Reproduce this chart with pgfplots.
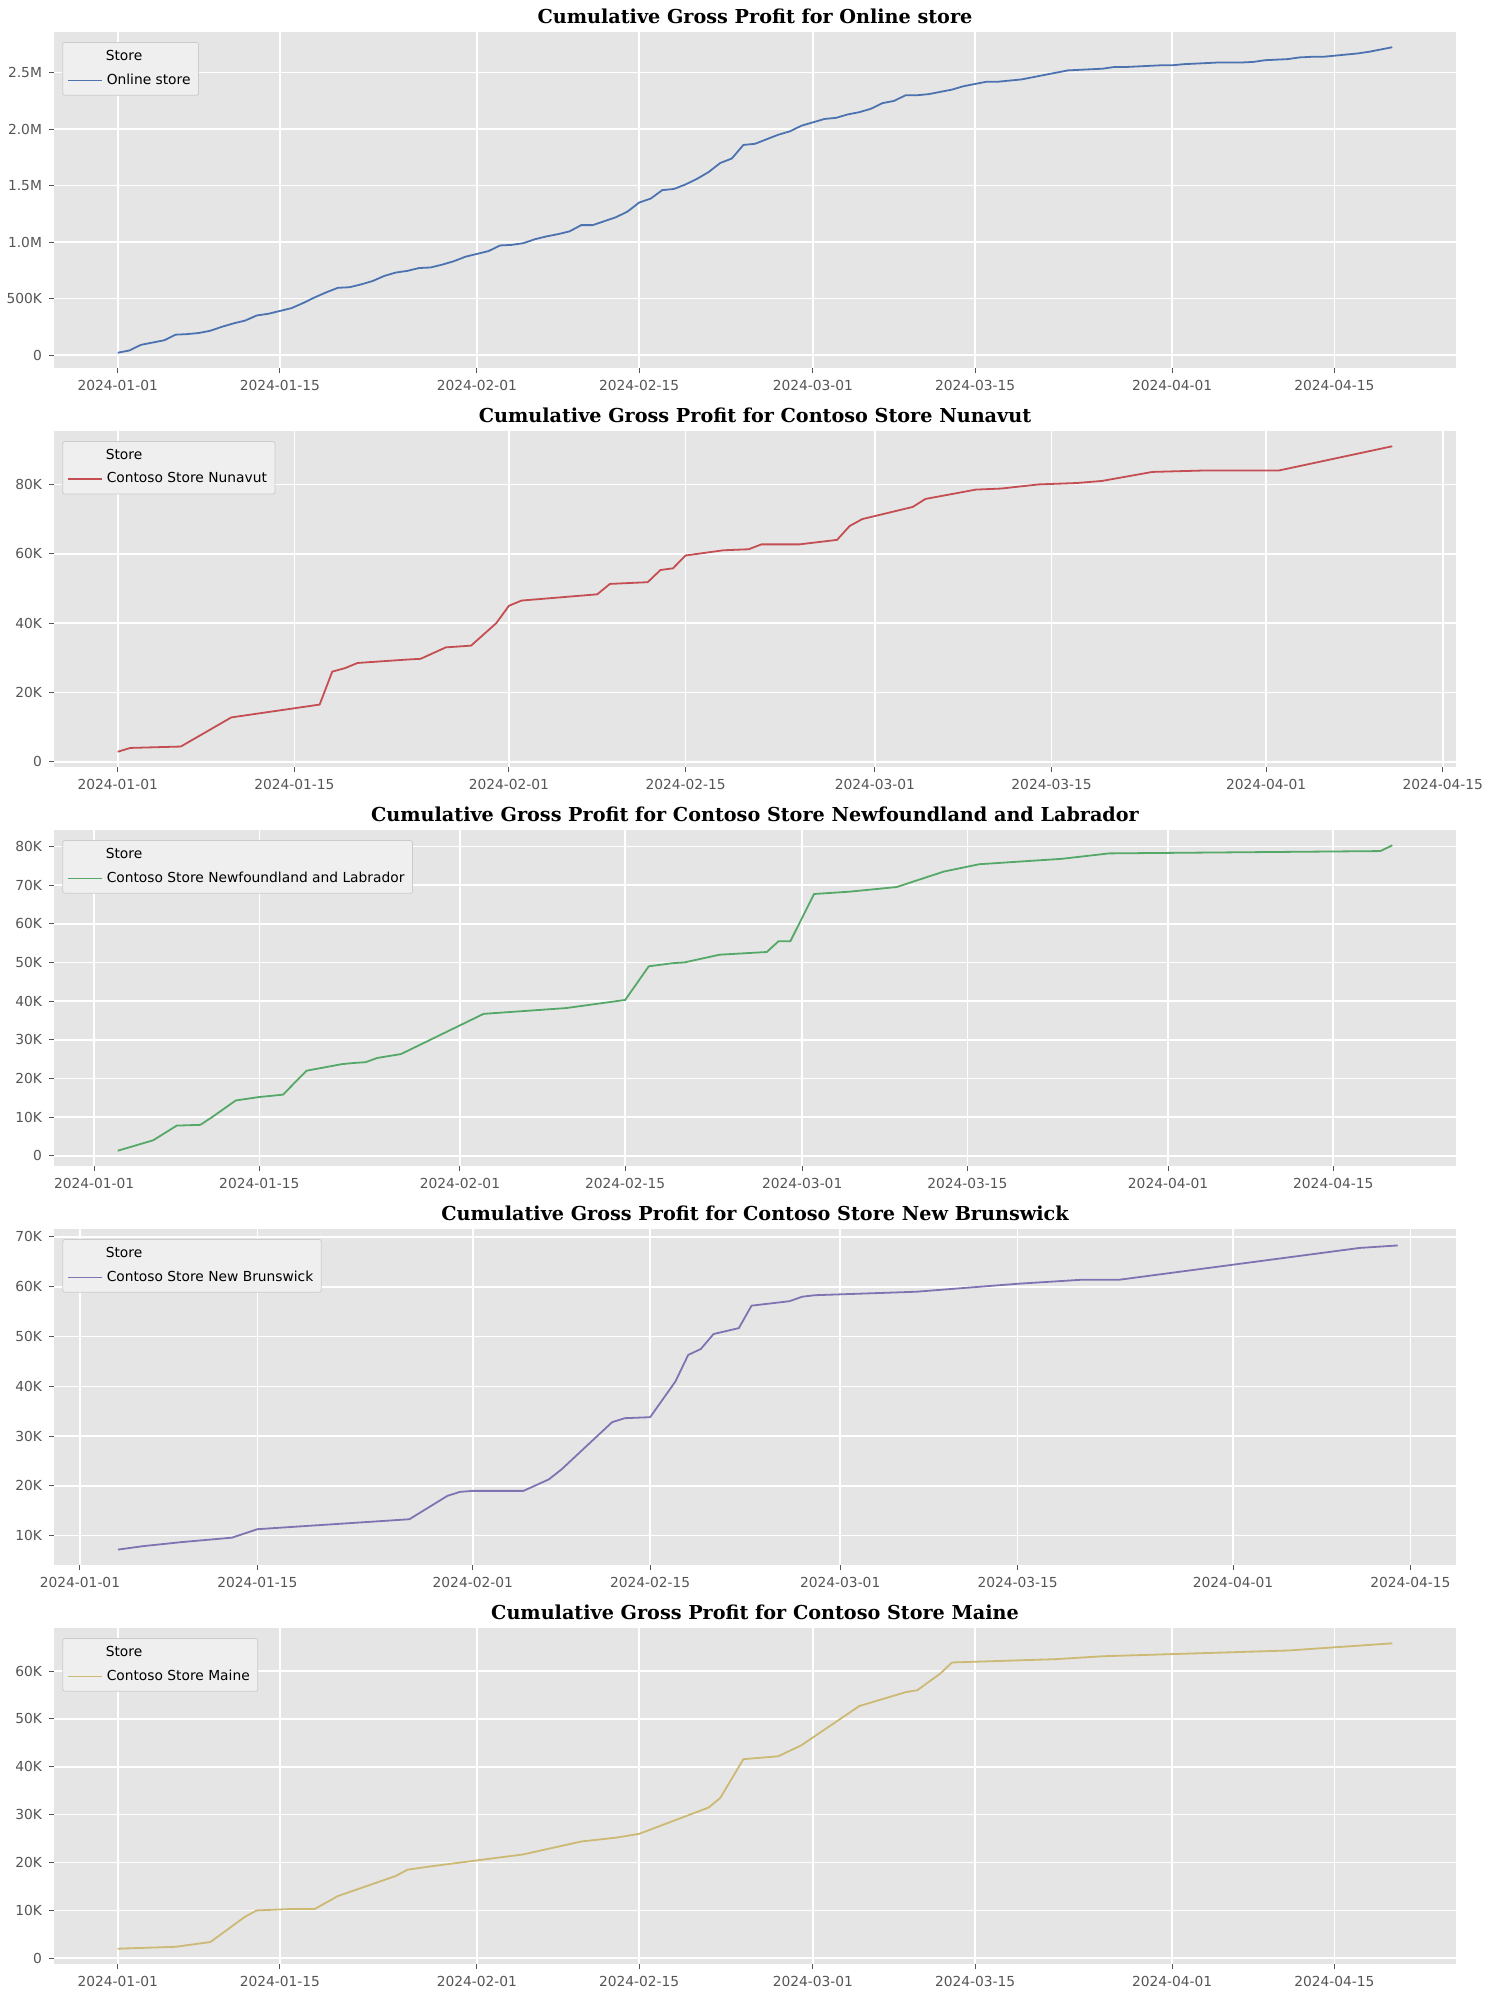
\documentclass[border=0pt]{standalone}
\usepackage{fontspec}
\setmainfont{DejaVu Sans}
\newfontfamily\titlefont{DejaVu Serif}
\usepackage{pgfplots}
\pgfplotsset{compat=1.18}
\definecolor{bgc}{HTML}{E5E5E5}
\definecolor{c1}{HTML}{4C72B0}
\definecolor{c2}{HTML}{C44E52}
\definecolor{c3}{HTML}{55A868}
\definecolor{c4}{HTML}{8172B2}
\definecolor{c5}{HTML}{CCB974}
\definecolor{tk}{HTML}{555555}
\pgfplotsset{gg/.style={
  scale only axis, width=701pt, height=168pt, anchor=north west,
  axis background/.style={fill=bgc}, axis line style={draw=none},
  grid=major, major grid style={white, line width=0.8pt},
  tick align=outside, major tick length=2.5pt, tick style={tk, line width=0.5pt},
  xtick pos=bottom, ytick pos=left,
  ticklabel style={font=\fontsize{6.9}{8}\selectfont, text=tk},
  title style={font=\titlefont\bfseries\fontsize{9.6}{11}\selectfont, yshift=-5.5pt},
  legend pos=north west,
  legend style={font=\fontsize{6.9}{8}\selectfont, fill=bgc!60!white, draw=gray!40, rounded corners=1pt, at={(0.006,0.97)}, anchor=north west, inner sep=2pt, row sep=1pt},
  legend cell align=left,
  xtick={0,14,31,45,60,74,91,105},
  xticklabels={2024-01-01,2024-01-15,2024-02-01,2024-02-15,2024-03-01,2024-03-15,2024-04-01,2024-04-15},
  every axis plot/.append style={line width=0.9pt},
}}
\newcommand{\legtitle}{\addlegendimage{empty legend}\addlegendentry{\hspace{-0.5em}\makebox[3.5em][c]{Store}}}
\begin{document}
\begin{tikzpicture}
\useasboundingbox (0,0) rectangle (743.5pt,-994.5pt);
% Panel 1
\begin{axis}[gg, at={(27pt,-16pt)}, xmin=-5.5, xmax=115.5, ymin=-115, ymax=2860,
  ytick={0,500,1000,1500,2000,2500}, yticklabels={0,500K,1.0M,1.5M,2.0M,2.5M},
  title={Cumulative Gross Profit for Online store}]
\legtitle
\addplot[c1] coordinates {(0,20)(1,40)(2,90)(3,110)(4,130)(5,180)(6,185)(7,195)(8,215)(9,250)(10,280)(11,305)(12,350)(13,365)(14,390)(15,415)(16,460)(17,510)(18,555)(19,595)(20,600)(21,625)(22,655)(23,700)(24,730)(25,745)(26,770)(27,775)(28,800)(29,830)(30,870)(31,895)(32,920)(33,970)(34,975)(35,990)(36,1025)(37,1050)(38,1070)(39,1095)(40,1150)(41,1150)(42,1185)(43,1220)(44,1270)(45,1350)(46,1385)(47,1460)(48,1470)(49,1510)(50,1560)(51,1620)(52,1700)(53,1740)(54,1860)(55,1870)(56,1910)(57,1950)(58,1980)(59,2030)(60,2060)(61,2090)(62,2100)(63,2130)(64,2150)(65,2180)(66,2230)(67,2250)(68,2300)(69,2300)(70,2310)(71,2330)(72,2350)(73,2380)(74,2400)(75,2420)(76,2420)(77,2430)(78,2440)(79,2460)(80,2480)(81,2500)(82,2520)(83,2525)(84,2530)(85,2535)(86,2550)(87,2550)(88,2555)(89,2560)(90,2565)(91,2565)(92,2575)(93,2580)(94,2585)(95,2590)(96,2590)(97,2590)(98,2595)(99,2610)(100,2615)(101,2620)(102,2635)(103,2640)(104,2640)(105,2650)(106,2660)(107,2670)(108,2685)(110,2725)};
\addlegendentry{Online store}
\end{axis}
% Panel 2
\begin{axis}[gg, at={(27pt,-215.5pt)}, xmin=-5.05, xmax=106.05, ymin=-1.5, ymax=95.4,
  ytick={0,20,40,60,80}, yticklabels={0,20K,40K,60K,80K},
  title={Cumulative Gross Profit for Contoso Store Nunavut}]
\legtitle
\addplot[c2] coordinates {(0,2.9)(1,4)(5,4.4)(9,12.8)(16,16.5)(17,26)(18,27)(19,28.5)(23,29.5)(24,29.7)(26,33)(28,33.5)(30,40)(31,45)(32,46.5)(38,48.3)(39,51.3)(42,51.8)(43,55.3)(44,55.8)(45,59.5)(46,60)(48,61)(50,61.3)(51,62.7)(54,62.7)(57,64)(58,68)(59,70)(63,73.5)(64,75.8)(68,78.5)(70,78.8)(73,80)(76,80.4)(78,81)(82,83.6)(86,84)(92,84)(101,91)};
\addlegendentry{Contoso Store Nunavut}
\end{axis}
% Panel 3
\begin{axis}[gg, at={(27pt,-415pt)}, xmin=-3.4, xmax=115.4, ymin=-2.65, ymax=84.25,
  ytick={0,10,...,80}, yticklabels={0,10K,20K,30K,40K,50K,60K,70K,80K},
  title={Cumulative Gross Profit for Contoso Store Newfoundland and Labrador}]
\legtitle
\addplot[c3] coordinates {(2,1.3)(5,4)(7,7.8)(9,8)(10,10)(12,14.3)(14,15.2)(16,15.8)(18,22)(21,23.7)(22,24)(23,24.2)(24,25.3)(26,26.3)(33,36.7)(40,38.2)(45,40.3)(47,49)(49,49.8)(50,50)(53,52)(57,52.7)(58,55.5)(59,55.5)(61,67.7)(64,68.3)(68,69.5)(72,73.5)(75,75.4)(82,76.8)(86,78.2)(109,78.8)(110,80.3)};
\addlegendentry{Contoso Store Newfoundland and Labrador}
\end{axis}
% Panel 4
\begin{axis}[gg, at={(27pt,-614.5pt)}, xmin=-2.05, xmax=108.6, ymin=4.1, ymax=71.6,
  ytick={10,20,...,70}, yticklabels={10K,20K,30K,40K,50K,60K,70K},
  title={Cumulative Gross Profit for Contoso Store New Brunswick}]
\legtitle
\addplot[c4] coordinates {(3,7.2)(5,7.9)(8,8.7)(12,9.6)(14,11.3)(26,13.3)(29,18)(30,18.8)(31,19)(35,19)(37,21.3)(38,23.3)(42,32.8)(43,33.6)(45,33.8)(47,41)(48,46.3)(49,47.5)(50,50.5)(52,51.7)(53,56.2)(56,57.1)(57,58)(58,58.3)(66,59)(74,60.6)(79,61.4)(82,61.4)(101,67.8)(104,68.3)};
\addlegendentry{Contoso Store New Brunswick}
\end{axis}
% Panel 5
\begin{axis}[gg, at={(27pt,-814pt)}, xmin=-5.5, xmax=115.5, ymin=-1.2, ymax=69,
  ytick={0,10,...,60}, yticklabels={0,10K,20K,30K,40K,50K,60K},
  title={Cumulative Gross Profit for Contoso Store Maine}]
\legtitle
\addplot[c5] coordinates {(0,2)(5,2.4)(8,3.4)(11,8.7)(12,10)(15,10.3)(17,10.3)(19,13)(24,17.2)(25,18.5)(27,19.2)(35,21.7)(40,24.4)(43,25.2)(45,26)(51,31.5)(52,33.5)(54,41.6)(57,42.2)(59,44.5)(64,52.7)(68,55.6)(69,56)(71,59.5)(72,61.8)(81,62.5)(85,63.1)(101,64.3)(110,65.8)};
\addlegendentry{Contoso Store Maine}
\end{axis}
\end{tikzpicture}
\end{document}
